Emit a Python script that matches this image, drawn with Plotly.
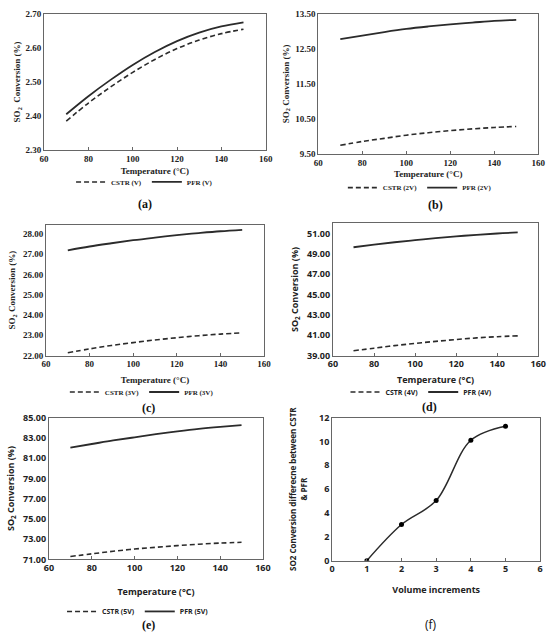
import plotly.graph_objects as go

temps = [70, 80, 90, 100, 110, 120, 130, 140, 150]

cstr_a = [2.385, 2.438, 2.485, 2.528, 2.566, 2.598, 2.623, 2.642, 2.655]
pfr_a = [2.405, 2.458, 2.506, 2.550, 2.588, 2.620, 2.645, 2.663, 2.675]

cstr_b = [9.74, 9.85, 9.94, 10.03, 10.10, 10.16, 10.21, 10.25, 10.28]
pfr_b = [12.78, 12.88, 12.98, 13.07, 13.14, 13.20, 13.25, 13.30, 13.33]

cstr_c = [22.14, 22.33, 22.50, 22.64, 22.77, 22.88, 22.98, 23.06, 23.12]
pfr_c = [27.18, 27.37, 27.53, 27.68, 27.81, 27.93, 28.03, 28.12, 28.19]

cstr_d = [39.48, 39.73, 39.98, 40.20, 40.40, 40.58, 40.74, 40.86, 40.94]
pfr_d = [49.65, 49.90, 50.14, 50.35, 50.55, 50.72, 50.87, 51.00, 51.10]

cstr_e = [71.29, 71.55, 71.80, 72.02, 72.20, 72.36, 72.50, 72.61, 72.69]
pfr_e = [82.05, 82.40, 82.75, 83.06, 83.37, 83.65, 83.90, 84.10, 84.27]

vol_inc = [1, 2, 3, 4, 5]
diff_f = [0.0, 3.03, 5.04, 10.11, 11.29]

labels = ["V", "2V", "3V", "4V", "5V"]
captions = ["(a)", "(b)", "(c)", "(d)", "(e)", "(f)"]

SERIF = "Liberation Serif"
SANS = "Open Sans"
LC = "#2b2b2b"

panels = [
    dict(xd=[0.072, 0.480], yd=[0.772, 0.989], yr=[2.30, 2.70], dt=0.10, t0=2.30, font=SERIF,
         leg=(0.257, 0.721), cap=(0.257, 0.686), ytitle="SO<sub>2</sub>  Conversion (%)", so=4, yso=3),
    dict(xd=[0.577, 0.982], yd=[0.766, 0.989], yr=[9.50, 13.50], dt=1.0, t0=9.50, font=SERIF,
         leg=(0.764, 0.712), cap=(0.793, 0.684), ytitle="SO<sub>2</sub> Conversion (%)", so=4, yso=4),
    dict(xd=[0.0755, 0.477], yd=[0.444, 0.653], yr=[22.0, 28.45], dt=1.0, t0=22.0, font=SERIF,
         leg=(0.252, 0.386), cap=(0.264, 0.361), ytitle="SO<sub>2</sub> Conversion (%)", so=8, yso=5),
    dict(xd=[0.604, 0.982], yd=[0.444, 0.655], yr=[39.0, 52.0], dt=2.0, t0=39.0, font=SANS,
         leg=(0.767, 0.386), cap=(0.781, 0.3625), ytitle="SO<sub>2</sub> Conversion (%)", so=7, yso=6),
    dict(xd=[0.081, 0.475], yd=[0.119, 0.345], yr=[71.0, 85.0], dt=2.0, t0=71.0, font=SANS,
         leg=(0.245, 0.036), cap=(0.264, 0.014), ytitle="SO<sub>2</sub> Conversion (%)", so=15, yso=6),
]

cstr_all = [cstr_a, cstr_b, cstr_c, cstr_d, cstr_e]
pfr_all = [pfr_a, pfr_b, pfr_c, pfr_d, pfr_e]

fig = go.Figure()
layout = dict(width=556, height=640, margin=dict(l=0, r=0, t=0, b=0),
              paper_bgcolor="white", plot_bgcolor="white", showlegend=True)

for i, p in enumerate(panels):
    n = i + 1
    xa = "x" if n == 1 else f"x{n}"
    ya = "y" if n == 1 else f"y{n}"
    lg = "legend" if n == 1 else f"legend{n}"
    fig.add_trace(go.Scatter(x=temps, y=cstr_all[i], mode="lines", line_shape="spline",
                             line=dict(color=LC, width=1.6, dash="5px,3px"),
                             name=f"CSTR ({labels[i]})", xaxis=xa, yaxis=ya, legend=lg))
    fig.add_trace(go.Scatter(x=temps, y=pfr_all[i], mode="lines", line_shape="spline",
                             line=dict(color=LC, width=1.8),
                             name=f"PFR ({labels[i]})", xaxis=xa, yaxis=ya, legend=lg))
    fsz = 9
    layout["xaxis" if n == 1 else f"xaxis{n}"] = dict(
        domain=p["xd"], anchor=ya, range=[60, 160], dtick=20, tick0=60,
        showline=True, mirror=True, linecolor="#666", linewidth=1,
        ticks="inside", ticklen=3, tickcolor="#666", showgrid=False, zeroline=False,
        tickfont=dict(family=p["font"], size=fsz, color="#222", weight="bold"),
        title=dict(text="Temperature (°C)", standoff=p["so"],
                   font=dict(family=p["font"], size=9, color="#222", weight="bold")))
    layout["yaxis" if n == 1 else f"yaxis{n}"] = dict(
        domain=p["yd"], anchor=xa, range=p["yr"], dtick=p["dt"], tick0=p["t0"],
        tickformat=".2f", showline=True, mirror=True, linecolor="#666", linewidth=1,
        ticks="", showgrid=False, zeroline=False,
        tickfont=dict(family=p["font"], size=fsz, color="#222", weight="bold"),
        title=dict(text=p["ytitle"], standoff=p["yso"],
                   font=dict(family=p["font"], size=9, color="#222", weight="bold")))
    layout[lg] = dict(orientation="h", x=p["leg"][0], y=p["leg"][1], xanchor="center",
                      yanchor="middle", bgcolor="rgba(0,0,0,0)", itemwidth=30,
                      tracegroupgap=0,
                      font=dict(family=p["font"], size=7, color="#222", weight="bold"))

# panel (f)
fig.add_trace(go.Scatter(x=vol_inc, y=diff_f, mode="lines+markers", line_shape="spline",
                         line=dict(color=LC, width=1.5), marker=dict(color="black", size=5),
                         showlegend=False, xaxis="x6", yaxis="y6"))
layout["xaxis6"] = dict(
    domain=[0.6025, 0.9856], anchor="y6", range=[0, 6], dtick=1,
    showline=True, mirror=True, linecolor="#666", linewidth=1,
    ticks="inside", ticklen=3, tickcolor="#666", showgrid=False, zeroline=False,
    tickfont=dict(family=SANS, size=9, color="#222", weight="bold"),
    title=dict(text="Volume increments", standoff=12,
               font=dict(family=SANS, size=9, color="#222", weight="bold")))
layout["yaxis6"] = dict(
    domain=[0.117, 0.345], anchor="x6", range=[0, 12], dtick=2,
    showline=True, mirror=True, linecolor="#666", linewidth=1,
    ticks="", showgrid=False, zeroline=False,
    tickfont=dict(family=SANS, size=9, color="#222", weight="bold"),
    title=dict(text="SO2 Conversion differecne between CSTR<br>& PFR", standoff=10,
               font=dict(family=SANS, size=8, color="#222", weight="bold")))

cap_pos = [p["cap"] for p in panels] + [(0.784, 0.0156)]
cap_font = [SERIF, SERIF, SERIF, SERIF, SERIF, SANS]
anns = []
for i, c in enumerate(captions):
    anns.append(dict(text=c, x=cap_pos[i][0], y=cap_pos[i][1], xref="paper", yref="paper",
                     showarrow=False, xanchor="center", yanchor="middle",
                     font=dict(family=cap_font[i], size=12, color="#111",
                               weight="bold" if i < 5 else "normal")))
layout["annotations"] = anns

fig.update_layout(**layout)
fig.write_html("out.html")
